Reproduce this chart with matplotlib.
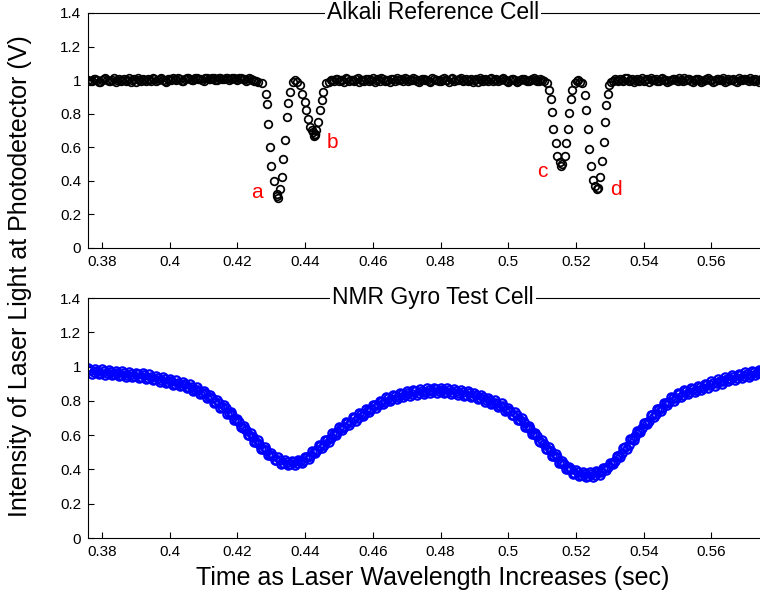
import numpy as np
import matplotlib.pyplot as plt
from matplotlib.ticker import FixedLocator, FuncFormatter

# ---- top panel: alkali reference cell (black open circles) ----
# flat parts of the sweep, uniformly sampled between the given start/stop times
# (two interleaved sample sets per flat part)
base_left_span = (0.376, 0.426)
base_left = [1.000, 0.995, 1.005, 0.990, 1.000, 1.010, 0.995, 1.000, 0.990, 1.005,
             1.000, 0.995, 1.010, 1.000, 0.990, 1.000, 1.005, 0.995, 1.000, 1.010,
             0.995, 1.005, 1.000, 0.990, 1.005, 1.010, 1.000, 1.005, 0.995, 1.010,
             1.005, 1.000, 1.015, 1.005, 0.995, 1.010, 1.005, 1.015, 1.000, 1.010,
             1.005, 1.015, 1.005, 1.010, 1.000, 1.010, 1.005, 1.000, 1.005, 0.995,
             0.990]
base_left2_span = (0.3765, 0.4255)
base_left2 = [0.995, 1.005, 1.000, 0.990, 1.005, 1.000, 0.995, 1.010, 1.000, 0.995,
              1.005, 1.000, 0.990, 1.005, 1.010, 0.995, 1.000, 1.005, 0.995, 1.005,
              1.000, 1.010, 0.995, 1.005, 1.000, 1.005, 1.010, 0.995, 1.005, 1.010,
              1.000, 1.010, 1.005, 1.000, 1.015, 1.005, 1.010, 1.000, 1.015, 1.005,
              1.010, 1.000, 1.015, 1.005, 1.010, 1.005, 0.995, 1.010, 1.000, 0.995]
base_mid_span = (0.447, 0.510)
base_mid = [0.990, 1.000, 1.005, 0.995, 1.000, 1.010, 0.995, 1.000, 1.005, 0.990,
            1.000, 1.005, 0.995, 1.010, 1.000, 0.995, 1.005, 1.000, 0.990, 1.005,
            1.010, 1.000, 0.995, 1.005, 1.000, 1.010, 0.995, 1.000, 1.005, 1.000,
            0.990, 1.005, 1.000, 0.995, 1.010, 1.000, 1.005, 0.995, 1.000, 1.010,
            1.000, 0.995, 1.005, 1.000, 0.990, 1.000, 1.005, 0.995, 1.010, 1.000,
            0.995, 1.005, 1.000, 0.990, 1.005, 1.000, 0.995, 1.005, 1.000, 0.995,
            1.005, 1.000, 0.995, 1.000]
base_mid2_span = (0.4475, 0.5095)
base_mid2 = [1.000, 0.995, 1.005, 1.000, 0.990, 1.005, 1.000, 0.995, 1.010, 1.000,
             0.995, 1.005, 1.000, 0.990, 1.005, 1.010, 0.995, 1.000, 1.005, 0.995,
             1.000, 1.005, 1.010, 0.995, 1.000, 1.005, 0.990, 1.005, 1.000, 0.995,
             1.010, 1.000, 0.995, 1.005, 1.000, 0.990, 1.010, 1.000, 1.005, 0.995,
             1.005, 1.000, 0.990, 1.005, 1.010, 0.995, 1.000, 1.005, 0.995, 1.005,
             1.000, 1.010, 0.995, 1.000, 1.005, 0.990, 1.000, 1.005, 0.995, 1.000,
             1.010, 0.995, 1.005]
base_right_span = (0.531, 0.580)
base_right = [0.995, 1.000, 1.005, 0.995, 1.010, 1.000, 0.990, 1.005, 1.000, 0.995,
              1.005, 1.010, 1.000, 0.995, 1.005, 1.000, 0.990, 1.000, 1.005, 0.995,
              1.000, 1.010, 1.005, 0.995, 1.000, 1.005, 0.990, 1.000, 1.010, 1.000,
              0.995, 1.005, 1.000, 0.990, 1.005, 1.000, 0.995, 1.010, 1.000, 1.005,
              0.995, 1.000, 1.005, 0.990, 1.000, 1.010, 1.000, 0.995, 1.005, 1.000]
base_right2_span = (0.5315, 0.5795)
base_right2 = [1.005, 0.995, 1.000, 1.010, 0.995, 1.005, 1.000, 0.995, 1.010, 1.000,
               0.990, 1.000, 1.005, 0.995, 1.010, 1.000, 0.995, 1.005, 1.000, 1.010,
               0.995, 1.000, 1.005, 0.990, 1.005, 1.000, 0.995, 1.005, 1.000, 0.990,
               1.005, 1.000, 1.010, 0.995, 1.000, 1.005, 0.990, 1.000, 1.005, 1.000,
               1.010, 0.995, 1.000, 1.005, 0.995, 1.000, 1.005, 0.990, 1.000]

# absorption dips a, b
dip_ab_t = [0.4272, 0.4283, 0.4286, 0.4289, 0.4296, 0.4299, 0.4308, 0.4316, 0.4318, 0.4321,
            0.4326, 0.4331, 0.4335, 0.4340, 0.4345, 0.4350, 0.4355, 0.4363, 0.4370, 0.4376,
            0.4385, 0.4390, 0.4400, 0.4402, 0.4409, 0.4414, 0.4420, 0.4424, 0.4426, 0.4428,
            0.4430, 0.4433, 0.4439, 0.4444, 0.4449, 0.4454, 0.4462]
dip_ab_v = [0.98, 0.92, 0.855, 0.74, 0.60, 0.487, 0.40, 0.32, 0.31, 0.30,
            0.35, 0.42, 0.53, 0.645, 0.78, 0.865, 0.93, 0.99, 1.00, 0.99,
            0.97, 0.92, 0.87, 0.825, 0.77, 0.72, 0.70, 0.69, 0.67, 0.68,
            0.675, 0.70, 0.75, 0.82, 0.88, 0.93, 0.98]
# absorption dips c, d
dip_cd_t = [0.5105, 0.5113, 0.5121, 0.5125, 0.5130, 0.5133, 0.5141, 0.5145, 0.5153, 0.5156,
            0.5160, 0.5167, 0.5170, 0.5177, 0.5180, 0.5184, 0.5187, 0.5197, 0.5202, 0.5207,
            0.5213, 0.5219, 0.5226, 0.5229, 0.5236, 0.5239, 0.5244, 0.5249, 0.5256, 0.5261,
            0.5265, 0.5271, 0.5276, 0.5283, 0.5286, 0.5289, 0.5293, 0.5298, 0.5304]
dip_cd_v = [0.995, 0.98, 0.94, 0.885, 0.81, 0.71, 0.625, 0.55, 0.51, 0.49,
            0.50, 0.55, 0.625, 0.71, 0.805, 0.885, 0.94, 0.985, 0.995, 1.00,
            0.99, 0.98, 0.91, 0.825, 0.71, 0.59, 0.487, 0.405, 0.37, 0.35,
            0.36, 0.42, 0.52, 0.63, 0.75, 0.85, 0.92, 0.97, 0.99]

peak_labels = ['a', 'b', 'c', 'd']
peak_label_t = [0.4259, 0.4481, 0.5101, 0.5318]
peak_label_v = [0.333, 0.626, 0.453, 0.347]

# ---- bottom panel: NMR gyro test cell (blue open circles) ----
# the trace is a thick band; four interleaved sample sets across its width
sweep1_span = (0.376, 0.580)
sweep1 = [0.991, 0.987, 0.983, 0.980, 0.976, 0.972, 0.969, 0.965, 0.960, 0.954,
          0.946, 0.937, 0.928, 0.919, 0.910, 0.897, 0.881, 0.860, 0.833, 0.805,
          0.775, 0.737, 0.697, 0.653, 0.610, 0.570, 0.530, 0.497, 0.470, 0.455,
          0.450, 0.457, 0.473, 0.505, 0.540, 0.573, 0.610, 0.645, 0.675, 0.703,
          0.727, 0.752, 0.777, 0.801, 0.820, 0.836, 0.847, 0.855, 0.863, 0.869,
          0.874, 0.877, 0.876, 0.873, 0.867, 0.862, 0.855, 0.847, 0.833, 0.819,
          0.803, 0.785, 0.760, 0.733, 0.700, 0.655, 0.615, 0.570, 0.530, 0.490,
          0.450, 0.415, 0.395, 0.385, 0.383, 0.390, 0.410, 0.440, 0.480, 0.525,
          0.575, 0.625, 0.670, 0.715, 0.755, 0.790, 0.820, 0.843, 0.862, 0.877,
          0.888, 0.900, 0.913, 0.925, 0.937, 0.948, 0.958, 0.967, 0.975, 0.982,
          0.988, 0.993, 0.997]
sweep2_span = (0.377, 0.579)
sweep2 = [0.959, 0.955, 0.952, 0.948, 0.944, 0.941, 0.937, 0.933, 0.927, 0.920,
          0.912, 0.903, 0.894, 0.885, 0.874, 0.859, 0.841, 0.817, 0.789, 0.760,
          0.726, 0.687, 0.645, 0.602, 0.560, 0.520, 0.484, 0.454, 0.433, 0.423,
          0.424, 0.435, 0.459, 0.493, 0.527, 0.562, 0.598, 0.630, 0.659, 0.685,
          0.710, 0.735, 0.759, 0.781, 0.798, 0.812, 0.821, 0.829, 0.836, 0.842,
          0.846, 0.847, 0.845, 0.840, 0.835, 0.829, 0.821, 0.810, 0.796, 0.781,
          0.764, 0.743, 0.717, 0.687, 0.648, 0.605, 0.563, 0.520, 0.480, 0.440,
          0.403, 0.375, 0.360, 0.354, 0.357, 0.370, 0.395, 0.430, 0.473, 0.520,
          0.570, 0.618, 0.663, 0.705, 0.743, 0.775, 0.802, 0.823, 0.840, 0.853,
          0.864, 0.877, 0.889, 0.901, 0.913, 0.923, 0.933, 0.941, 0.949, 0.955,
          0.961, 0.965]
sweep3_span = (0.3765, 0.5785)
sweep3 = [0.980, 0.976, 0.972, 0.969, 0.965, 0.961, 0.958, 0.954, 0.949, 0.942,
          0.934, 0.925, 0.916, 0.907, 0.897, 0.883, 0.866, 0.843, 0.816, 0.788,
          0.756, 0.717, 0.676, 0.632, 0.590, 0.550, 0.512, 0.480, 0.456, 0.444,
          0.442, 0.451, 0.471, 0.504, 0.538, 0.572, 0.609, 0.643, 0.672, 0.699,
          0.723, 0.748, 0.773, 0.796, 0.814, 0.829, 0.839, 0.847, 0.855, 0.860,
          0.865, 0.867, 0.865, 0.862, 0.856, 0.850, 0.843, 0.834, 0.820, 0.805,
          0.789, 0.769, 0.743, 0.715, 0.679, 0.635, 0.594, 0.550, 0.510, 0.470,
          0.431, 0.400, 0.383, 0.374, 0.375, 0.385, 0.408, 0.440, 0.481, 0.528,
          0.578, 0.626, 0.671, 0.715, 0.754, 0.788, 0.816, 0.838, 0.856, 0.870,
          0.881, 0.893, 0.906, 0.918, 0.930, 0.941, 0.950, 0.959, 0.967, 0.974,
          0.979, 0.984]
sweep4_span = (0.3775, 0.5795)
sweep4 = [0.968, 0.964, 0.961, 0.957, 0.953, 0.950, 0.946, 0.941, 0.936, 0.928,
          0.919, 0.910, 0.901, 0.892, 0.880, 0.865, 0.845, 0.820, 0.792, 0.763,
          0.727, 0.687, 0.644, 0.601, 0.560, 0.520, 0.485, 0.457, 0.439, 0.431,
          0.435, 0.449, 0.477, 0.511, 0.545, 0.581, 0.616, 0.648, 0.676, 0.701,
          0.726, 0.751, 0.775, 0.795, 0.812, 0.824, 0.833, 0.841, 0.848, 0.853,
          0.856, 0.856, 0.854, 0.849, 0.843, 0.837, 0.829, 0.817, 0.803, 0.787,
          0.770, 0.746, 0.720, 0.688, 0.646, 0.605, 0.561, 0.520, 0.480, 0.440,
          0.404, 0.380, 0.368, 0.364, 0.368, 0.385, 0.413, 0.450, 0.494, 0.543,
          0.593, 0.639, 0.684, 0.725, 0.761, 0.793, 0.817, 0.837, 0.853, 0.865,
          0.877, 0.890, 0.902, 0.914, 0.925, 0.936, 0.945, 0.953, 0.960, 0.967,
          0.972, 0.976]

x_ticks = [0.38, 0.40, 0.42, 0.44, 0.46, 0.48, 0.50, 0.52, 0.54, 0.56]
y_ticks = [0, 0.2, 0.4, 0.6, 0.8, 1.0, 1.2, 1.4]

plt.rcParams['font.family'] = ['Liberation Sans', 'DejaVu Sans']

W, H = 760, 598
fig = plt.figure(figsize=(W / 100, H / 100), dpi=100)
# axes reach past the right edge of the figure, as in the cropped original
ax_top = fig.add_axes([88 / W, 1 - 248 / H, 690 / W, 235 / H])
ax_bot = fig.add_axes([88 / W, 1 - 538 / H, 690 / W, 240 / H])


def series(span, vals):
    return np.linspace(span[0], span[1], len(vals)), np.array(vals)


mk_top = dict(ls='none', marker='o', mfc='none', ms=5.5, mew=1.25, mec='black')
mk_bot = dict(ls='none', marker='o', mfc='none', ms=6.0, mew=1.6, mec='#0000ff')

base_sets = [(base_left_span, base_left), (base_left2_span, base_left2),
             (base_mid_span, base_mid), (base_mid2_span, base_mid2),
             (base_right_span, base_right), (base_right2_span, base_right2)]
for span, vals in base_sets:
    t, v = series(span, vals)
    ax_top.plot(t, v, **mk_top)
ax_top.plot(dip_ab_t, dip_ab_v, **mk_top)
ax_top.plot(dip_cd_t, dip_cd_v, **mk_top)
for lab, t, v in zip(peak_labels, peak_label_t, peak_label_v):
    ax_top.text(t, v, lab, color='red', fontsize=15, ha='center', va='center')

sweep_sets = [(sweep1_span, sweep1), (sweep2_span, sweep2),
              (sweep3_span, sweep3), (sweep4_span, sweep4)]
for span, vals in sweep_sets:
    t, v = series(span, vals)
    ax_bot.plot(t, v, **mk_bot)

titles = ['Alkali Reference Cell', 'NMR Gyro Test Cell']
for ax, title in zip([ax_top, ax_bot], titles):
    ax.set_xlim(0.37587, 0.57965)
    ax.set_ylim(0, 1.4)
    ax.xaxis.set_major_locator(FixedLocator(x_ticks))
    ax.yaxis.set_major_locator(FixedLocator(y_ticks))
    ax.xaxis.set_major_formatter(FuncFormatter(lambda x, p: '%g' % round(x, 3)))
    ax.yaxis.set_major_formatter(FuncFormatter(lambda y, p: '%g' % round(y, 3)))
    ax.tick_params(direction='in', length=4.5, width=0.8, labelsize=11, pad=5)
    ax.spines['right'].set_visible(False)
    for s in ['left', 'bottom', 'top']:
        ax.spines[s].set_linewidth(0.8)
    ax.text(0.5, 1.0, title, transform=ax.transAxes, ha='center', va='center',
            fontsize=16.5, bbox=dict(facecolor='white', edgecolor='none', pad=1.5))

fig.text(433 / W, 1 - 578 / H, 'Time as Laser Wavelength Increases (sec)',
         ha='center', va='center', fontsize=18)
fig.text(20 / W, 1 - 276 / H, 'Intensity of Laser Light at Photodetector (V)',
         ha='center', va='center', rotation=90, fontsize=18)

fig.savefig('out.png', dpi=100)
